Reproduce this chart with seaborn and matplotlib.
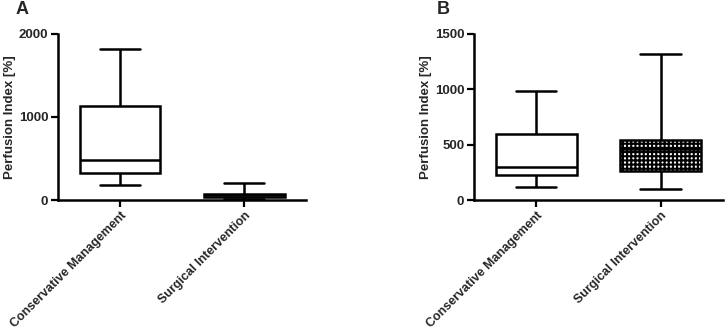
import matplotlib
matplotlib.use("Agg")
import seaborn as sns
import matplotlib.pyplot as plt
import pandas as pd

# ----------------------------
# Data (five-number summaries: min, Q1, median, Q3, max)
# ----------------------------
groups = ["Conservative Management", "Surgical Intervention"]

a_conservative = [177, 325, 482, 1133, 1820]
a_surgical = [10, 40, 58, 76, 205]

b_conservative = [115, 226, 301, 596, 985]
b_surgical = [102, 262, 461, 542, 1319]

a_yticks = [0, 1000, 2000]
b_yticks = [0, 500, 1000, 1500]

sns.set_theme(style="ticks")
plt.rcParams["font.family"] = ["Liberation Sans", "DejaVu Sans"]
plt.rcParams["font.weight"] = "bold"
plt.rcParams["hatch.linewidth"] = 1.5


def make_df(first, second):
    return pd.DataFrame({
        "group": [groups[0]] * len(first) + [groups[1]] * len(second),
        "value": first + second,
    })


fig = plt.figure(figsize=(7.28, 3.29), dpi=100)
ax_a = fig.add_axes([0.0797, 0.392, 0.341, 0.505])
ax_b = fig.add_axes([0.651, 0.392, 0.342, 0.505])

line = dict(color="black", linewidth=1.8)
panels = [
    (ax_a, make_df(a_conservative, a_surgical), a_yticks, "A", -0.17),
    (ax_b, make_df(b_conservative, b_surgical), b_yticks, "B", -0.15),
]

for ax, df, yticks, letter, lx in panels:
    sns.boxplot(data=df, x="group", y="value", order=groups, ax=ax,
                whis=(0, 100), width=0.65, color="white", fliersize=0,
                boxprops=dict(facecolor="white", edgecolor="black", linewidth=1.8),
                whiskerprops=line, capprops=line, medianprops=line)
    ax.set_xlim(-0.5, 1.5)
    ax.set_ylim(0, yticks[-1])
    ax.set_yticks(yticks)
    ax.set_xlabel("")
    ax.set_ylabel("Perfusion Index [%]", fontsize=9.5, fontweight="bold", labelpad=2)
    ax.set_xticks(range(len(groups)))
    ax.set_xticklabels(groups, rotation=45, ha="right", rotation_mode="anchor",
                       fontsize=9, fontweight="bold")
    for lab in ax.get_yticklabels():
        lab.set_fontsize(9.5)
        lab.set_fontweight("bold")
    ax.tick_params(axis="both", direction="out", length=5, width=1.6, color="black", pad=2)
    for side in ["top", "right"]:
        ax.spines[side].set_visible(False)
    for side in ["left", "bottom"]:
        ax.spines[side].set_linewidth(1.8)
        ax.spines[side].set_color("black")
    ax.text(lx, 1.2, letter, transform=ax.transAxes,
            fontsize=13, fontweight="bold", va="top")

# checkered fill on panel B surgical box
ax_b.patches[1].set_hatch("++++")
ax_b.patches[1].set_edgecolor("black")

fig.savefig("out.png", dpi=100)
